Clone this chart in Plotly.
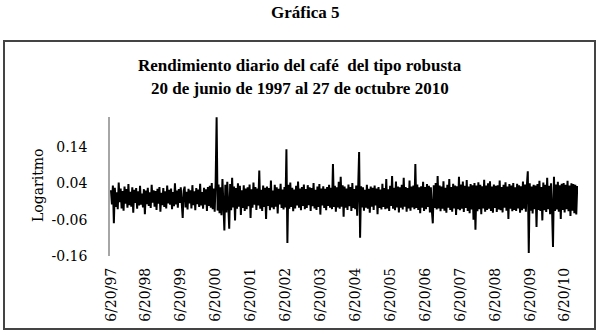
import pandas as pd
import plotly.graph_objects as go

returns = [
    0.021, -0.018, 0.034, -0.070, 0.028, -0.025, 0.015, -0.031, 0.042, -0.012, 0.026, -0.029, 0.019, -0.035, 0.031, -0.016, 0.024, -0.027, 0.038, -0.020,
    0.017, -0.024, 0.029, -0.041, 0.022, -0.014, 0.027, -0.030, 0.018, -0.021, 0.033, -0.019, 0.012, -0.026, 0.024, -0.045, 0.020, -0.017, 0.028, -0.022,
    0.015, -0.028, 0.036, -0.013, 0.021, -0.024, 0.019, -0.033, 0.025, -0.016, 0.030, -0.038, 0.014, -0.020, 0.027, -0.025, 0.018, -0.029, 0.034, -0.015,
    0.022, -0.019, 0.026, -0.031, 0.016, -0.023, 0.040, -0.018, 0.020, -0.027, 0.024, -0.014, 0.029, -0.022, -0.055, 0.019, 0.031, -0.026, 0.017, -0.032,
    0.025, -0.015, 0.021, -0.029, 0.035, -0.020, 0.018, -0.034, 0.027, -0.017, 0.023, -0.025, 0.039, -0.021, 0.016, -0.030, 0.028, -0.019, 0.024, -0.036,
    0.030, -0.022, 0.033, -0.027, 0.041, -0.031, 0.026, -0.038, 0.045, 0.222, -0.035, 0.037, -0.042, 0.029, -0.048, 0.052, -0.033, -0.090, 0.036, -0.040,
    0.044, -0.029, -0.085, 0.038, -0.034, 0.055, -0.026, 0.031, -0.062, 0.027, -0.030, 0.040, -0.024, 0.033, -0.047, 0.021, -0.028, 0.035, -0.036, 0.026,
    -0.031, 0.029, -0.023, 0.037, -0.055, 0.024, -0.027, 0.042, -0.019, 0.030, -0.033, 0.026, -0.021, 0.075, -0.030, 0.022, -0.036, 0.034, -0.025, 0.028,
    -0.058, 0.031, -0.022, 0.027, -0.034, 0.048, -0.026, 0.020, -0.031, 0.036, -0.024, 0.029, -0.043, 0.025, -0.018, 0.039, -0.028, 0.023, -0.032, 0.030,
    -0.026, 0.134, -0.124, 0.036, -0.030, 0.042, -0.025, 0.028, -0.037, 0.023, -0.029, 0.033, -0.021, 0.045, -0.027, 0.026, -0.034, 0.030, -0.022, 0.037,
    -0.031, 0.024, -0.028, 0.035, -0.020, 0.029, -0.036, 0.027, -0.023, 0.041, -0.029, 0.022, -0.033, 0.031, -0.025, 0.038, -0.046, 0.026, -0.021, 0.032,
    -0.028, 0.025, -0.034, 0.030, -0.022, 0.036, -0.027, 0.028, -0.031, 0.093, -0.025, 0.033, -0.038, 0.029, -0.026, 0.044, -0.030, 0.058, -0.024, 0.035,
    -0.052, 0.031, -0.027, 0.026, -0.033, 0.037, -0.023, 0.030, -0.036, 0.041, -0.028, 0.024, -0.031, 0.034, -0.049, 0.027, 0.126, -0.110, 0.032, -0.026,
    0.029, -0.035, 0.022, -0.027, 0.036, -0.030, 0.025, -0.041, 0.031, -0.024, 0.028, -0.033, 0.034, -0.021, 0.026, -0.045, 0.030, -0.028, 0.023, -0.032,
    0.039, -0.025, 0.027, -0.031, 0.052, -0.029, 0.024, -0.036, 0.033, -0.022, 0.060, -0.030, 0.028, -0.034, 0.045, -0.026, 0.031, -0.040, 0.029, -0.027,
    0.036, -0.032, 0.055, -0.024, 0.030, -0.038, 0.027, -0.029, 0.048, -0.035, 0.031, -0.026, 0.034, -0.031, 0.093, -0.028, 0.037, -0.033, 0.029, -0.042,
    0.032, -0.027, 0.044, -0.036, 0.030, -0.031, 0.038, -0.025, 0.033, -0.040, 0.029, -0.034, -0.070, 0.035, -0.028, 0.041, -0.032, 0.060, -0.029, 0.034,
    -0.037, 0.031, -0.030, 0.046, -0.035, 0.028, -0.041, 0.036, -0.027, 0.052, -0.033, 0.030, -0.038, 0.039, -0.029, 0.034, -0.047, 0.032, -0.031, 0.058,
    -0.034, 0.037, -0.030, 0.045, -0.039, 0.033, -0.028, 0.049, -0.036, 0.031, -0.042, 0.038, -0.032, 0.035, -0.060, 0.041, -0.088, 0.034, -0.037, 0.043,
    -0.031, 0.036, -0.045, 0.032, -0.029, 0.050, -0.038, 0.034, -0.033, 0.040, -0.030, 0.046, -0.036, 0.031, -0.041, 0.037, -0.028, 0.033, -0.039, 0.035,
    -0.032, 0.048, -0.034, 0.030, -0.040, 0.036, -0.027, 0.043, -0.035, 0.031, -0.058, 0.038, -0.030, 0.034, -0.037, 0.041, -0.033, 0.029, -0.036, 0.039,
    -0.029, 0.035, -0.041, 0.032, -0.034, 0.045, -0.030, 0.037, -0.038, 0.033, 0.073, -0.152, 0.040, -0.035, 0.031, -0.043, 0.036, -0.031, 0.034, -0.080,
    0.038, -0.033, 0.047, -0.036, 0.030, -0.062, 0.042, -0.034, 0.036, -0.039, 0.055, -0.031, 0.033, -0.045, 0.040, -0.030, -0.135, 0.058, -0.036, 0.037,
    -0.032, 0.044, -0.038, 0.035, -0.058, 0.039, -0.033, 0.041, -0.040, 0.036, -0.031, 0.047, -0.037, 0.034, -0.050, 0.040, -0.035, 0.038, -0.042, 0.036,
    -0.046, 0.033,
]
start_date = "1997-06-20"
end_date = "2010-10-27"
dates = pd.date_range(start_date, end_date, periods=len(returns))

x_tick_dates = [f"{y}-06-20" for y in range(1997, 2011)]
x_tick_labels = ["6/20/97", "6/20/98", "6/20/99", "6/20/00", "6/20/01", "6/20/02", "6/20/03",
                 "6/20/04", "6/20/05", "6/20/06", "6/20/07", "6/20/08", "6/20/09", "6/20/10"]
y_tick_vals = [-0.16, -0.06, 0.04, 0.14]
y_tick_labels = ["-0.16", "-0.06", "0.04", "0.14"]

W, H = 599, 335
def px(x):
    return x / W
def py(y):
    return 1 - y / H

fig = go.Figure()
fig.add_trace(go.Scatter(x=dates, y=returns, mode="lines",
                         line=dict(color="#000000", width=2), showlegend=False,
                         hoverinfo="skip"))

serif = "DejaVu Serif"
bold_serif = "Liberation Serif"

fig.update_layout(
    width=W, height=H,
    margin=dict(l=0, r=0, t=0, b=0, autoexpand=False),
    paper_bgcolor="white", plot_bgcolor="white",
    xaxis=dict(
        domain=[px(110), px(578)],
        range=["1997-06-10", "2010-11-04"],
        tickvals=x_tick_dates, ticktext=x_tick_labels,
        tickangle=-90, ticks="", ticklabelstandoff=8,
        tickfont=dict(family=serif, size=14, color="#000"),
        showgrid=False, zeroline=False, showline=False, automargin=False,
    ),
    yaxis=dict(
        domain=[py(256), py(116.7)],
        range=[-0.16, 0.2235],
        tickvals=y_tick_vals, ticktext=y_tick_labels,
        ticks="", ticklabelstandoff=18,
        tickfont=dict(family=serif, size=14, color="#000"),
        showgrid=False, zeroline=False, automargin=False,
        showline=True, linecolor="#a6a6a6", linewidth=1.5,
    ),
    shapes=[dict(type="rect", xref="paper", yref="paper",
                 x0=px(4), x1=px(595), y0=py(329), y1=py(41),
                 line=dict(color="#444444", width=2), fillcolor="rgba(0,0,0,0)")],
    annotations=[
        dict(text="<b>Gráfica 5</b>", x=px(305), y=py(12), xref="paper", yref="paper",
             showarrow=False, xanchor="center", yanchor="middle",
             font=dict(family=bold_serif, size=17, color="#000")),
        dict(text="<b>Rendimiento diario del café  del tipo robusta</b>", x=px(300), y=py(65),
             xref="paper", yref="paper", showarrow=False, xanchor="center", yanchor="middle",
             font=dict(family=bold_serif, size=17, color="#000")),
        dict(text="<b>20 de junio de 1997 al 27 de octubre 2010</b>", x=px(300), y=py(88),
             xref="paper", yref="paper", showarrow=False, xanchor="center", yanchor="middle",
             font=dict(family=bold_serif, size=17, color="#000")),
        dict(text="Logaritmo", x=px(37.5), y=py(185.5), xref="paper", yref="paper",
             showarrow=False, textangle=-90, xanchor="center", yanchor="middle",
             font=dict(family=serif, size=14, color="#000")),
    ],
)

fig.write_html("out.html", config={"displayModeBar": False},
               post_script="document.body.style.margin='0px';document.body.style.overflow='hidden';")
